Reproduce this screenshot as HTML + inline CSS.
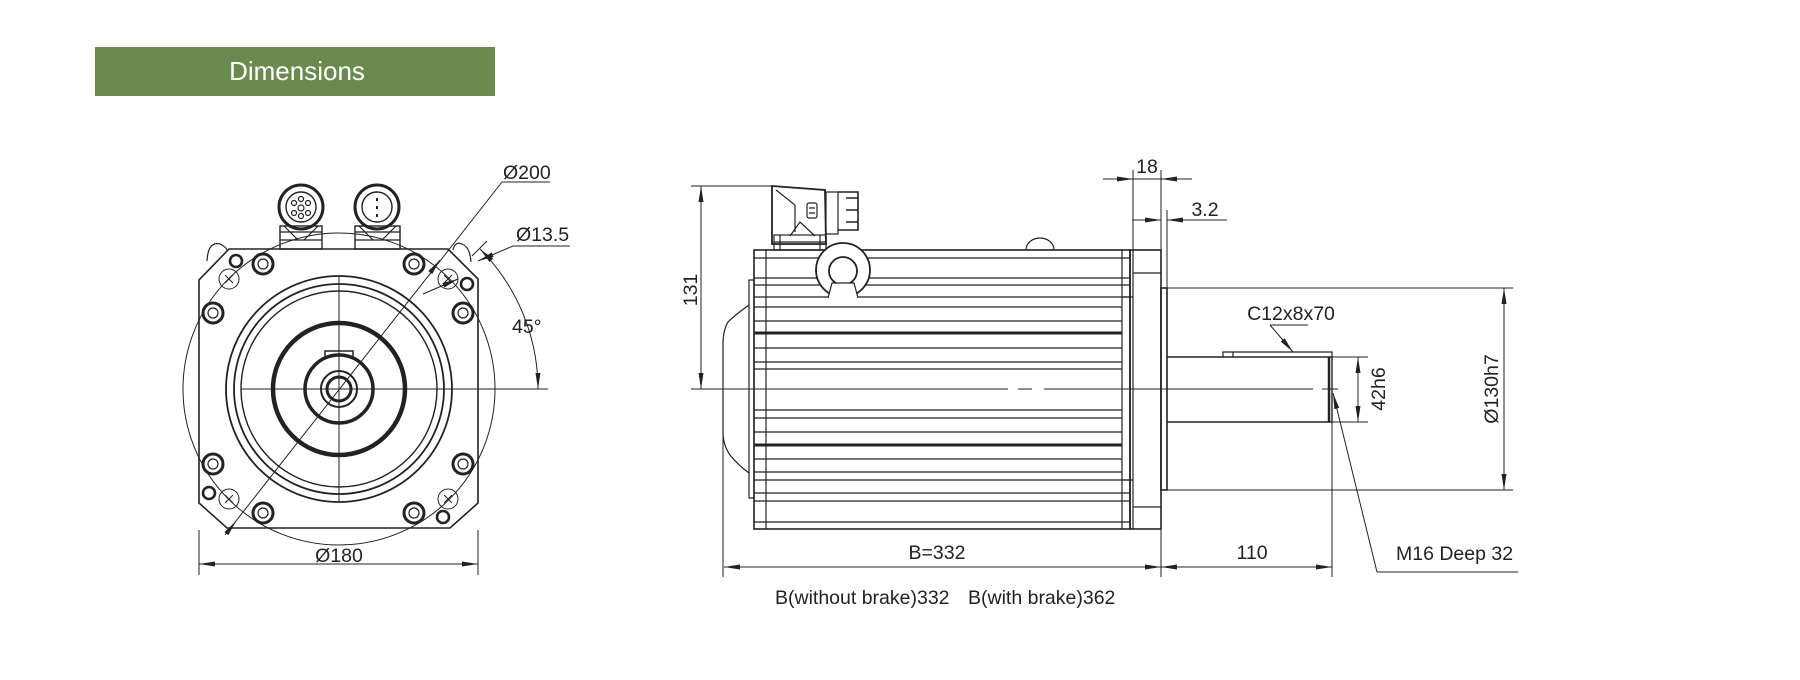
<!DOCTYPE html>
<html><head><meta charset="utf-8"><style>
html,body{margin:0;padding:0;background:#fff;}
svg{display:block;font-family:"Liberation Sans",sans-serif;}
</style></head><body>
<svg width="1800" height="680" viewBox="0 0 1800 680" xmlns="http://www.w3.org/2000/svg">
<defs>
<marker id="a" markerWidth="16" markerHeight="8" refX="16" refY="4" orient="auto-start-reverse" markerUnits="userSpaceOnUse"><path d="M0,1.5 L16,4 L0,6.5z" fill="#222"/></marker>
</defs>
<rect x="95" y="47" width="400" height="49" fill="#6a8a50"/>
<text x="297" y="80" font-size="26" fill="#fff" text-anchor="middle">Dimensions</text>

<g stroke="#222" fill="none" stroke-width="1.2">
<circle cx="339" cy="389" r="156" stroke-width="1"/>
<path d="M229,249 L448,249 L478,279 L478,503 L450,528 L227,528 L199,503 L199,280 Z" stroke-width="1.6"/>
<path d="M207,261 Q208,241 220,244 Q226,247 227,250" />
<path d="M453,250 Q455,241 462,244 Q470,247 471,262" />
<circle cx="339" cy="389" r="113" stroke-width="1.8"/>
<circle cx="339" cy="389" r="105" stroke-width="1.8"/>
<circle cx="339" cy="389" r="98" stroke-width="1.4"/>
<circle cx="339" cy="389" r="66" stroke-width="4.5"/>
<path d="M325,356 L325,351 L353,351 L353,356" stroke-width="1.5"/>
<circle cx="339" cy="389" r="34" stroke-width="3.5"/>
<circle cx="339" cy="389" r="18" stroke-width="2"/>
<circle cx="339" cy="389" r="12" stroke-width="3"/>
<line x1="339" y1="276" x2="339" y2="502" stroke-width="1"/>
<line x1="241" y1="389" x2="548" y2="389" stroke-width="1"/>
<g stroke-width="3">
<circle cx="263" cy="264" r="10"/><circle cx="414" cy="264" r="10"/>
<circle cx="213" cy="313" r="10"/><circle cx="463" cy="313" r="10"/>
<circle cx="213" cy="464" r="10"/><circle cx="463" cy="464" r="10"/>
<circle cx="263" cy="513" r="10"/><circle cx="414" cy="513" r="10"/>
</g>
<g stroke-width="1.2">
<circle cx="263" cy="264" r="5"/><circle cx="414" cy="264" r="5"/>
<circle cx="213" cy="313" r="5"/><circle cx="463" cy="313" r="5"/>
<circle cx="213" cy="464" r="5"/><circle cx="463" cy="464" r="5"/>
<circle cx="263" cy="513" r="5"/><circle cx="414" cy="513" r="5"/>
</g>
<g stroke-width="2.6">
<circle cx="236" cy="261" r="6"/><circle cx="467" cy="284" r="6"/>
<circle cx="209" cy="493" r="6"/><circle cx="443" cy="517" r="6"/>
</g>
<g stroke-width="1">
<circle cx="229" cy="279" r="10"/><circle cx="448" cy="279" r="10"/>
<circle cx="229" cy="499" r="10"/><circle cx="448" cy="499" r="10"/>
<path d="M225,275l8,8M233,275l-8,8M444,275l8,8M452,275l-8,8M225,495l8,8M233,495l-8,8M444,495l8,8M452,495l-8,8"/>
</g>
<rect x="280" y="226" width="42" height="23" stroke-width="1.4"/>
<path d="M280,232h42M280,240h42M284,226l14,14M318,226l-14,14"/>
<circle cx="301" cy="207" r="22" stroke-width="3"/>
<circle cx="301" cy="207" r="15" stroke-width="1.4"/>
<circle cx="301" cy="208" r="3"/><circle cx="294" cy="203" r="2.5"/><circle cx="308" cy="203" r="2.5"/><circle cx="294" cy="213" r="2.5"/><circle cx="308" cy="213" r="2.5"/><circle cx="301" cy="199" r="2.5"/><circle cx="301" cy="216" r="2.5"/>
<rect x="355" y="226" width="45" height="23" stroke-width="1.4"/>
<path d="M355,232h45M355,240h45M359,226l14,14M396,226l-14,14"/>
<circle cx="377" cy="207" r="22" stroke-width="3"/>
<circle cx="377" cy="207" r="15" stroke-width="1.4"/>
<path d="M377,198v3M377,206v3M377,214v3" stroke-width="2"/>
<line x1="199" y1="530" x2="199" y2="575" stroke-width="1"/>
<line x1="478" y1="530" x2="478" y2="575" stroke-width="1"/>
<line x1="199" y1="564" x2="478" y2="564" marker-start="url(#a)" marker-end="url(#a)" stroke-width="1"/>
<line x1="225" y1="535" x2="502" y2="182" stroke-width="1"/>
<line x1="502" y1="182" x2="550" y2="182" stroke-width="1"/>
<line x1="433" y1="269" x2="440" y2="260" marker-end="url(#a)" stroke-width="1"/>
<line x1="230" y1="529" x2="236" y2="521" marker-end="url(#a)" stroke-width="1"/>
<line x1="423" y1="294" x2="458" y2="279" marker-end="url(#a)" stroke-width="1"/>
<line x1="513" y1="246" x2="478" y2="261" marker-end="url(#a)" stroke-width="1"/>
<line x1="513" y1="246" x2="570" y2="246" stroke-width="1"/>
<line x1="472" y1="256" x2="487" y2="241" stroke-width="1"/>
<path d="M480,249 A199,199 0 0 1 538,389" marker-start="url(#a)" marker-end="url(#a)" stroke-width="1"/>
</g>
<g font-size="19.5" fill="#222">
<text x="339" y="562" text-anchor="middle">Ø180</text>
<text x="503" y="179">Ø200</text>
<text x="516" y="241">Ø13.5</text>
<text x="512" y="333">45°</text>
</g>

<g stroke="#222" fill="none" stroke-width="1.2">
<path d="M749,280 L754,280 L754,498 L749,498 Z"/>
<path d="M749,305 Q735,315 728,322 Q723,330 723,345 L723,432 Q723,445 730,455 Q738,465 749,473"/>
<line x1="723" y1="389" x2="723" y2="577" stroke-width="1"/>
<rect x="754" y="250" width="376" height="279" stroke-width="1.6"/>
<line x1="766" y1="250" x2="766" y2="529"/>
<line x1="1122" y1="250" x2="1122" y2="529"/>
<path d="M754,258H1130M754,278H1130M754,285H1130M754,297H1130M754,307H1122M754,321H1122M754,348H1122M754,362H1122M754,369H1122M754,410H1122M754,418H1122M754,432H1122M754,459H1122M754,472H1122M754,480H1130M754,493H1130M754,501H1130M754,522H1130"/>
<path d="M754,333H1122M754,445H1122" stroke-width="3"/>
<rect x="1130" y="250" width="31" height="279" stroke-width="1.6"/>
<path d="M1133,250V529M1133,273H1161M1133,507H1161M1122,297H1133M1122,480H1133"/>
<rect x="1161" y="288" width="6" height="202" stroke-width="1.6"/>
<path d="M1167,357H1332V422H1167" stroke-width="1.4"/>
<path d="M1329,357V422" stroke-width="2.5"/>
<path d="M1223,357V352H1332V357M1233,352V357" stroke-width="1.2"/>
<path d="M691,389H1008M1018,389H1032M1044,389H1313M1322,389H1338" stroke-width="1"/>
<path d="M772,186 L825,190 L826,244 L772,244 Z" stroke-width="1.8"/>
<path d="M776,190 L795,205 L795,232 M790,236 L800,222 L815,236"/>
<rect x="807" y="203" width="10" height="15" rx="2"/>
<path d="M809,208h6M809,213h6"/>
<rect x="826" y="192" width="12" height="42"/>
<path d="M838,192h20v38h-20M846,198h12M846,210h12M846,222h12" stroke-width="1.6"/>
<rect x="774" y="235" width="52" height="15"/>
<path d="M780,235v15M820,235v15M774,242h52"/>
<circle cx="843" cy="270" r="27" stroke-width="1.8" fill="#fff"/>
<circle cx="843" cy="271" r="14" stroke-width="1.8"/>
<path d="M828,298 L832,283 L854,283 L858,298" fill="#fff"/>
<path d="M1026,250 A14,12 0 0 1 1054,250"/>
<path d="M691,186H773" stroke-width="1"/>
<line x1="701" y1="186" x2="701" y2="389" marker-start="url(#a)" marker-end="url(#a)" stroke-width="1"/>
<line x1="1161" y1="490" x2="1161" y2="577" stroke-width="1"/>
<line x1="724" y1="567" x2="1161" y2="567" marker-start="url(#a)" marker-end="url(#a)" stroke-width="1"/>
<line x1="1332" y1="422" x2="1332" y2="577" stroke-width="1"/>
<line x1="1161" y1="567" x2="1332" y2="567" marker-start="url(#a)" marker-end="url(#a)" stroke-width="1"/>
<line x1="1133" y1="170" x2="1133" y2="250" stroke-width="1"/>
<line x1="1161" y1="170" x2="1161" y2="250" stroke-width="1"/>
<line x1="1103" y1="179" x2="1133" y2="179" marker-end="url(#a)" stroke-width="1"/>
<line x1="1192" y1="179" x2="1161" y2="179" marker-end="url(#a)" stroke-width="1"/>
<line x1="1133" y1="179" x2="1161" y2="179" stroke-width="1"/>
<line x1="1167" y1="210" x2="1167" y2="288" stroke-width="1"/>
<line x1="1132" y1="220" x2="1161" y2="220" marker-end="url(#a)" stroke-width="1"/>
<line x1="1227" y1="220" x2="1167" y2="220" marker-end="url(#a)" stroke-width="1"/>
<path d="M1167,288H1513M1167,490H1513" stroke-width="1"/>
<line x1="1504" y1="288" x2="1504" y2="490" marker-start="url(#a)" marker-end="url(#a)" stroke-width="1"/>
<path d="M1332,357H1368M1332,422H1368" stroke-width="1"/>
<line x1="1358" y1="357" x2="1358" y2="422" marker-start="url(#a)" marker-end="url(#a)" stroke-width="1"/>
<path d="M1270,325H1308" stroke-width="1"/>
<line x1="1270" y1="325" x2="1293" y2="352" marker-end="url(#a)" stroke-width="1"/>
<line x1="1377" y1="572" x2="1333" y2="393" marker-end="url(#a)" stroke-width="1"/>
<path d="M1377,572H1518" stroke-width="1"/>
</g>
<g font-size="19.5" fill="#222">
<text transform="translate(697,290) rotate(-90)" text-anchor="middle">131</text>
<text x="937" y="559" text-anchor="middle">B=332</text>
<text x="1252" y="559" text-anchor="middle">110</text>
<text x="1147" y="173" text-anchor="middle">18</text>
<text x="1205" y="216" text-anchor="middle">3.2</text>
<text x="1291" y="320" text-anchor="middle">C12x8x70</text>
<text transform="translate(1385,389) rotate(-90)" text-anchor="middle">42h6</text>
<text transform="translate(1498,389) rotate(-90)" text-anchor="middle">Ø130h7</text>
<text x="1396" y="560">M16 Deep 32</text>
<text x="775" y="604">B(without brake)332</text>
<text x="968" y="604">B(with brake)362</text>
</g>
</svg>
</body></html>
